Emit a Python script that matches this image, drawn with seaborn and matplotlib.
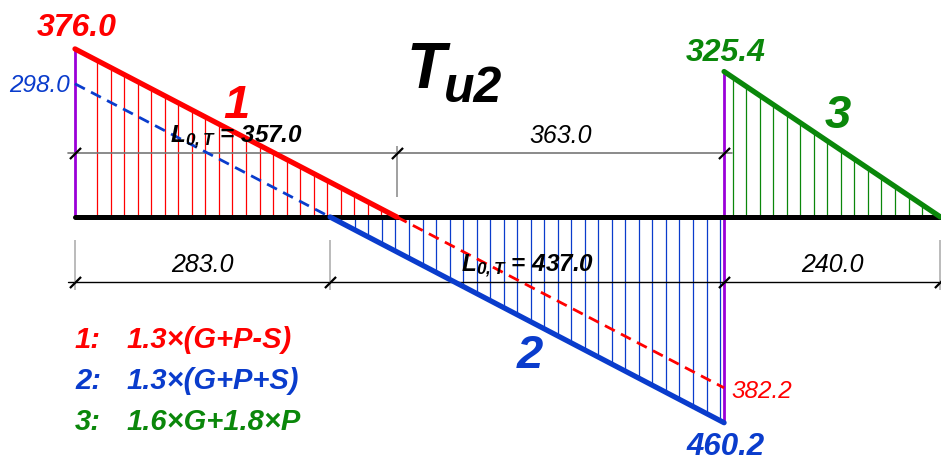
import numpy as np
import pandas as pd
import matplotlib
matplotlib.use("Agg")
import matplotlib.pyplot as plt
from matplotlib.path import Path
import seaborn as sns

# Shear force envelope T_u2 of a two-bay beam with a cantilever (kN)
x_combo1 = [0.0, 357.0, 720.0]
v_combo1 = [376.0, 0.0, -382.2]
x_combo2 = [0.0, 283.0, 720.0]
v_combo2 = [298.0, 0.0, -460.2]
x_combo3 = [720.0, 960.0]
v_combo3 = [325.4, 0.0]

beam_nodes = [0.0, 720.0, 960.0]
dim_upper = [0.0, 357.0, 720.0]
dim_upper_labels = [r"$\mathbfit{L}_{\mathbfit{0,T}}$ = 357.0", "363.0"]
dim_lower = [0.0, 283.0, 720.0, 960.0]
dim_lower_labels = ["283.0", r"$\mathbfit{L}_{\mathbfit{0,T}}$ = 437.0", "240.0"]

combo_names = ["1.3×(G+P-S)", "1.3×(G+P+S)", "1.6×G+1.8×P"]

RED = "#ff0000"
BLUE = "#0a3ccc"
GREEN = "#0a870a"
PURPLE = "#9a00d8"

sns.set_style("white")
plt.rcParams["font.family"] = ["Liberation Sans", "DejaVu Sans"]
plt.rcParams["font.sans-serif"] = ["Liberation Sans"]
plt.rcParams["mathtext.fontset"] = "custom"
plt.rcParams["mathtext.bfit"] = "Liberation Sans:italic:bold"
plt.rcParams["mathtext.it"] = "Liberation Sans:italic"
plt.rcParams["mathtext.rm"] = "Liberation Sans"

W, H = 941, 461
fig = plt.figure(figsize=(W / 100, H / 100), dpi=100)
ax = fig.add_axes([0, 0, 1, 1])

# drawing scale: 0.9015 px per cm along the beam, 0.447 px per kN
SX, SV = 0.9015, 0.447
X0, Y0 = 75, 217


def at(px, py):
    """Convert a canvas position to drawing coordinates."""
    return (px - X0) / SX, (Y0 - py) / SV


ax.set_xlim(at(0, 0)[0], at(W, 0)[0])
ax.set_ylim(at(0, H)[1], at(0, 0)[1])
ax.axis("off")

# hatching of the governing parts of each diagram
step = 15.0
h1 = np.arange(24.7, x_combo1[1], step)
ax.vlines(h1, 0, np.interp(h1, x_combo1, v_combo1), color=RED, lw=0.9, zorder=1)
h2 = np.arange(715.5, x_combo2[1], -step)
ax.vlines(h2, 0, np.interp(h2, x_combo2, v_combo2), color=BLUE, lw=0.9, zorder=1)
h3 = np.arange(729.6, x_combo3[1], step)
ax.vlines(h3, 0, np.interp(h3, x_combo3, v_combo3), color=GREEN, lw=0.9, zorder=1)

# support ordinates
ax.vlines([x_combo1[0]], 0, v_combo1[0], color=PURPLE, lw=2.0, zorder=2)
ax.vlines([x_combo3[0]], v_combo2[-1], v_combo3[0], color=PURPLE, lw=2.0, zorder=2)

# beam axis
sns.lineplot(x=[beam_nodes[0], beam_nodes[-1]], y=[0, 0], ax=ax, color="black",
             lw=3.6, zorder=3, legend=False)

# non-governing branches (dashed)
sns.lineplot(x=x_combo1[1:], y=v_combo1[1:], ax=ax, color=RED, lw=2.0,
             linestyle=(0, (4, 2.5)), zorder=4, legend=False)
sns.lineplot(x=x_combo2[:2], y=v_combo2[:2], ax=ax, color=BLUE, lw=2.0,
             linestyle=(0, (4, 2.5)), zorder=4, legend=False)

# governing branches (solid)
sns.lineplot(x=x_combo1[:2], y=v_combo1[:2], ax=ax, color=RED, lw=3.8,
             zorder=5, legend=False)
sns.lineplot(x=x_combo2[1:], y=v_combo2[1:], ax=ax, color=BLUE, lw=3.8,
             zorder=5, legend=False)
sns.lineplot(x=x_combo3, y=v_combo3, ax=ax, color=GREEN, lw=3.8,
             zorder=5, legend=False)

# dimension lines
tick = Path([(-1, -1), (1, 1)], [Path.MOVETO, Path.LINETO])
y_up = at(0, 153)[1]
y_lo = at(0, 282)[1]
x_start = at(68, 0)[0]
ax.plot([x_start, at(732, 0)[0]], [y_up, y_up], color="#777777", lw=1.2, zorder=2)
ax.plot([x_start, beam_nodes[-1]], [y_lo, y_lo], color="black", lw=1.0, zorder=2)
ax.vlines([dim_upper[1]], at(0, 197)[1], at(0, 146)[1], color="#999999", lw=1.3, zorder=2)
ax.vlines([dim_lower[0], dim_lower[1], dim_lower[3]], at(0, 290)[1], at(0, 240)[1],
          color="#b5b5b5", lw=1.3, zorder=2)
ax.plot(dim_upper, [y_up] * len(dim_upper), ls="none", marker=tick, ms=8,
        mew=1.6, mec="black", zorder=6)
ax.plot(dim_lower, [y_lo] * len(dim_lower), ls="none", marker=tick, ms=8,
        mew=1.6, mec="black", zorder=6)

for a, b, lab in zip(dim_upper[:-1], dim_upper[1:], dim_upper_labels):
    bold = lab.startswith("$")
    ax.annotate(lab, ((a + b) / 2, y_up), xytext=(0, 10), textcoords="offset pixels",
                ha="center", va="baseline", fontsize=18 if not bold else 17.5,
                style="italic", weight="bold" if bold else "normal", color="black",
                zorder=7)
for a, b, lab in zip(dim_lower[:-1], dim_lower[1:], dim_lower_labels):
    bold = lab.startswith("$")
    ax.annotate(lab, ((a + b) / 2, y_lo), xytext=(0, 10), textcoords="offset pixels",
                ha="center", va="baseline", fontsize=18 if not bold else 17.5,
                style="italic", weight="bold" if bold else "normal", color="black",
                zorder=7)

# ordinate values
ax.annotate(f"{v_combo1[0]:.1f}", (x_combo1[0], v_combo1[0]), xytext=(2, 13),
            textcoords="offset pixels", ha="center", va="baseline", fontsize=23,
            style="italic", weight="bold", color=RED)
ax.annotate(f"{v_combo2[0]:.1f}", (x_combo2[0], v_combo2[0]), xytext=(-5, -8),
            textcoords="offset pixels", ha="right", va="baseline", fontsize=17.5,
            style="italic", color=BLUE)
ax.annotate(f"{v_combo3[0]:.1f}", (x_combo3[0], v_combo3[0]), xytext=(2, 11),
            textcoords="offset pixels", ha="center", va="baseline", fontsize=23,
            style="italic", weight="bold", color=GREEN)
ax.annotate(f"{abs(v_combo2[-1]):.1f}", (x_combo2[-1], v_combo2[-1]), xytext=(1, -32),
            textcoords="offset pixels", ha="center", va="baseline", fontsize=22.5,
            style="italic", weight="bold", color=BLUE)
ax.annotate(f"{abs(v_combo1[-1]):.1f}", (x_combo1[-1], v_combo1[-1]), xytext=(7, -10),
            textcoords="offset pixels", ha="left", va="baseline", fontsize=17.5,
            style="italic", color=RED)

# diagram numbers
for lab, pos, col in [("1", at(236, 118), RED), ("2", at(530, 368), BLUE),
                      ("3", at(838, 128), GREEN)]:
    ax.text(*pos, lab, ha="center", va="baseline", fontsize=34, style="italic",
            weight="bold", color=col)

# title
ax.text(*at(406, 88), "T", ha="left", va="baseline", fontsize=46,
        style="italic", weight="bold", color="black")
ax.text(*at(444, 102), "u2", ha="left", va="baseline", fontsize=36,
        style="italic", weight="bold", color="black")

# load combinations
for i, (name, col, base) in enumerate(zip(combo_names, [RED, BLUE, GREEN], [348, 389, 430])):
    ax.text(*at(75, base), f"{i + 1}:", ha="left", va="baseline", fontsize=21,
            style="italic", weight="bold", color=col)
    ax.text(*at(127, base), name, ha="left", va="baseline", fontsize=21,
            style="italic", weight="bold", color=col)

fig.savefig("out.png", dpi=100)
